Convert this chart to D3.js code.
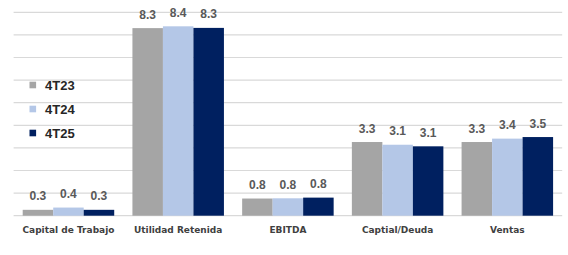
<!DOCTYPE html>
<html>
<head>
<meta charset="utf-8">
<script src="https://cdn.jsdelivr.net/npm/d3@7"></script>
<style>
  html, body { margin: 0; padding: 0; background: #ffffff; }
  svg { display: block; }
</style>
</head>
<body>
<script>
const categories = ["Capital de Trabajo", "Utilidad Retenida", "EBITDA", "Captial/Deuda", "Ventas"];
const seriesNames = ["4T23", "4T24", "4T25"];
const values4T23 = [0.26, 8.30, 0.76, 3.26, 3.26];
const values4T24 = [0.36, 8.38, 0.77, 3.14, 3.41];
const values4T25 = [0.26, 8.31, 0.80, 3.07, 3.48];
const yTicks = [0, 1, 2, 3, 4, 5, 6, 7, 8, 9];
const colors = ["#a5a5a5", "#b4c7e7", "#002060"];

const seriesValues = [values4T23, values4T24, values4T25];
const W = 568, H = 255;

const svg = d3.select("body").append("svg").attr("width", W).attr("height", H);

const x0 = d3.scaleBand().domain(categories).range([13.6, 562.2])
  .paddingInner(0.166).paddingOuter(0.083);
const x1 = d3.scaleBand().domain(seriesNames).range([0, x0.bandwidth()]).padding(0);
const y = d3.scaleLinear().domain([0, 9]).range([215.7, 12.3]);

// gridlines
svg.append("g").selectAll("line").data(yTicks).join("line")
  .attr("x1", 13.6).attr("x2", 562.2)
  .attr("y1", d => y(d)).attr("y2", d => y(d))
  .attr("stroke", "#d9d9d9").attr("stroke-width", 1.2);

// bars
const groups = svg.append("g").selectAll("g").data(categories).join("g")
  .attr("transform", d => `translate(${x0(d)},0)`);

groups.selectAll("rect").data((c, ci) => seriesNames.map((s, si) => ({ s, si, v: seriesValues[si][ci] })))
  .join("rect")
  .attr("x", d => x1(d.s))
  .attr("width", x1.bandwidth())
  .attr("y", d => y(d.v))
  .attr("height", d => y(0) - y(d.v))
  .attr("fill", d => colors[d.si]);

// value labels
groups.selectAll("text").data((c, ci) => seriesNames.map((s, si) => ({ s, si, v: seriesValues[si][ci] })))
  .join("text")
  .attr("x", d => x1(d.s) + x1.bandwidth() / 2)
  .attr("y", d => y(d.v) - 9.5)
  .attr("text-anchor", "middle")
  .attr("font-family", "Liberation Sans, Arial, sans-serif")
  .attr("font-size", "12px")
  .attr("font-weight", "bold")
  .attr("fill", "#595959")
  .text(d => d3.format(".1f")(d.v));

// category labels
svg.append("g").selectAll("text").data(categories).join("text")
  .attr("x", d => x0(d) + x0.bandwidth() / 2)
  .attr("y", 232.5)
  .attr("text-anchor", "middle")
  .attr("font-family", "DejaVu Sans, sans-serif")
  .attr("font-size", "9px")
  .attr("font-weight", "bold")
  .attr("fill", "#404040")
  .text(d => d);

// legend
const legend = svg.append("g").selectAll("g").data(seriesNames).join("g")
  .attr("transform", (d, i) => `translate(29.5, ${85 + i * 24})`);
legend.append("rect").attr("x", 0).attr("y", -3.3).attr("width", 6.6).attr("height", 6.6)
  .attr("fill", (d, i) => colors[i]);
legend.append("text").attr("x", 15.5).attr("y", 4.7)
  .attr("font-family", "Liberation Sans, Arial, sans-serif")
  .attr("font-size", "13px").attr("font-weight", "bold")
  .attr("fill", "#262626")
  .text(d => d);
</script>
</body>
</html>
